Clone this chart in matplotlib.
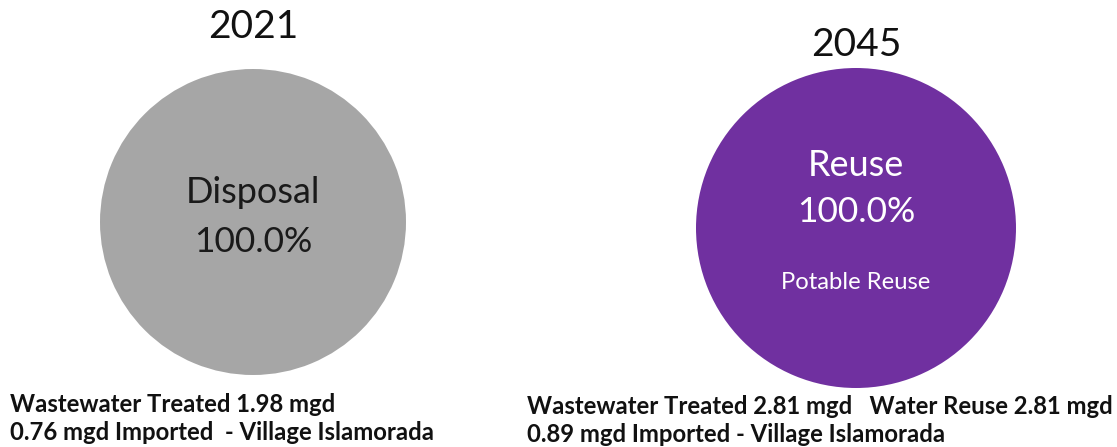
import matplotlib
matplotlib.use("Agg")
import matplotlib.pyplot as plt

years = ["2021", "2045"]
categories = [["Disposal"], ["Reuse"]]
values = [[100.0], [100.0]]
sublabels = ["", "Potable Reuse"]
colors = ["#A6A6A6", "#7030A0"]
text_colors = ["#1a1a1a", "#ffffff"]
notes = [
    ["Wastewater Treated 1.98 mgd", "0.76 mgd Imported  - Village Islamorada"],
    ["Wastewater Treated 2.81 mgd   Water Reuse 2.81 mgd", "0.89 mgd Imported - Village Islamorada"],
]

W, H = 1117, 447
fig = plt.figure(figsize=(W / 100, H / 100), dpi=100)
fig.patch.set_facecolor("white")

FONT = "Lato"

# pixel boxes: (left, top, size)
boxes = [(100, 69, 306), (696, 68, 320)]
title_y = [27, 45]
title_x = [253, 856]
note_x = [10, 527]
note_y = [[405, 433], [407, 434]]

for i in range(2):
    l, t, s = boxes[i]
    ax = fig.add_axes([l / W, 1 - (t + s) / H, s / W, s / H])
    ax.pie(values[i], colors=[colors[i]], startangle=90, counterclock=False,
           radius=1.0, wedgeprops=dict(linewidth=0))
    ax.set_xlim(-1, 1)
    ax.set_ylim(-1, 1)
    ax.set_aspect("equal")
    ax.axis("off")
    pct = f"{values[i][0] / sum(values[i]) * 100:.1f}%"
    if i == 0:
        ax.text(0, 0.19, categories[i][0], ha="center", va="center",
                fontsize=26, color=text_colors[i], family=FONT)
        ax.text(0, -0.13, pct, ha="center", va="center",
                fontsize=25.5, color=text_colors[i], family=FONT)
    else:
        ax.text(0, 0.39, categories[i][0], ha="center", va="center",
                fontsize=26, color=text_colors[i], family=FONT)
        ax.text(0, 0.10, pct, ha="center", va="center",
                fontsize=25.5, color=text_colors[i], family=FONT)
        ax.text(0, -0.34, sublabels[i], ha="center", va="center",
                fontsize=17.2, color=text_colors[i], family=FONT)

    fig.text(title_x[i] / W, 1 - title_y[i] / H, years[i], ha="center", va="center",
             fontsize=28, color="#111111", family=FONT)
    for j, line in enumerate(notes[i]):
        fig.text(note_x[i] / W, 1 - note_y[i][j] / H, line, ha="left", va="center",
                 fontsize=17.2, fontweight="bold", color="#111111", family=FONT)

fig.savefig("out.png", dpi=100, facecolor="white")
